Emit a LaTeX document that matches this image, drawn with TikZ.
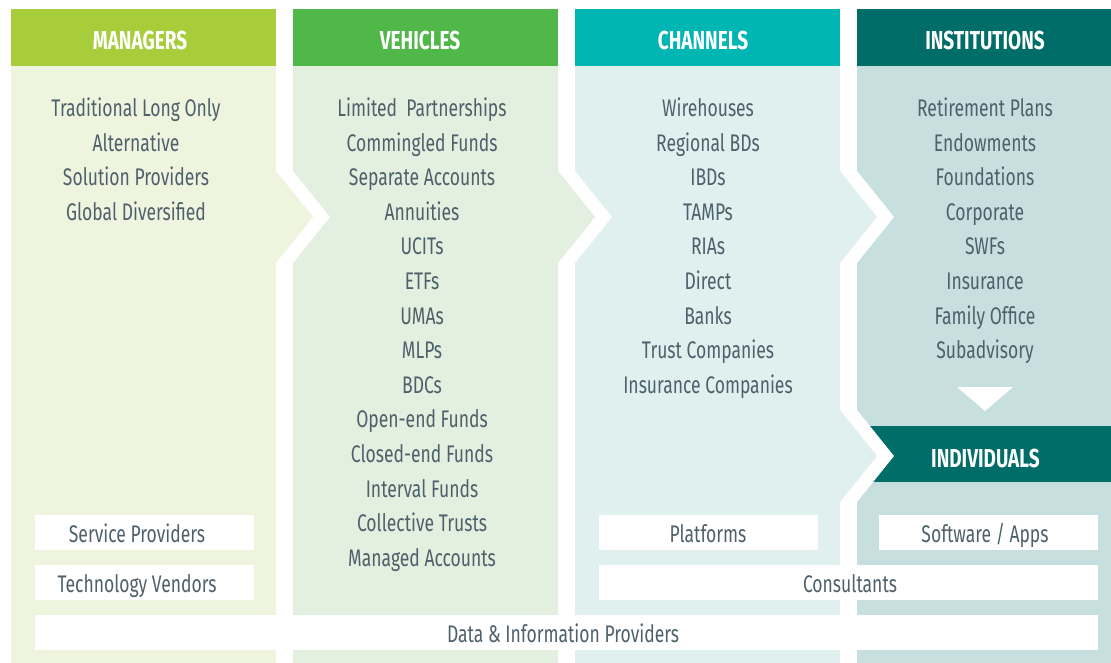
\documentclass[tikz,border=0pt]{standalone}
\usepackage{fontspec}
\setmainfont[FakeStretch=0.73]{Fira Sans}
\definecolor{mgrH}{HTML}{A7CE3A}
\definecolor{mgrL}{HTML}{EFF4DF}
\definecolor{vehH}{HTML}{50B848}
\definecolor{vehL}{HTML}{E3EFDF}
\definecolor{chnH}{HTML}{00B6B3}
\definecolor{chnL}{HTML}{DFF0EF}
\definecolor{insH}{HTML}{006D68}
\definecolor{insL}{HTML}{C8DFDF}
\definecolor{txt}{HTML}{4E606B}
% white arrow notch between two columns: #1 left column edge, #2 right column edge,
% #3 top of the notch, #4 colour of the left column
\newcommand{\flowchev}[4]{%
  \fill[white] (#2,#3) -- (#2+37,#3+46) -- (#2,#3+92) -- cycle;
  \fill[#4] (#1,#3) -- (#1+37,#3+46) -- (#1,#3+92) -- cycle;}
\begin{document}
\begin{tikzpicture}[x=1pt,y=-1pt,
  item/.style={text=txt,font=\fontsize{24}{24}\selectfont,anchor=base,inner sep=0pt},
  head/.style={text=white,font=\fontsize{26}{26}\selectfont\bfseries,anchor=base,inner sep=0pt},
  tagbox/.style={fill=white,draw=none,inner sep=0pt,minimum height=35pt}]
\useasboundingbox (0,0) rectangle (1111,663);
% column panels
\fill[mgrL] (11,9) rectangle (276,663);
\fill[vehL] (293,9) rectangle (558,663);
\fill[chnL] (575,9) rectangle (840,663);
\fill[insL] (857,9) rectangle (1111,663);
% column headers
\fill[mgrH] (11,9) rectangle (276,66);
\fill[vehH] (293,9) rectangle (558,66);
\fill[chnH] (575,9) rectangle (840,66);
\fill[insH] (857,9) rectangle (1111,66);
\fill[insH] (857,426) rectangle (1111,482);
% arrow notches
\flowchev{276}{293}{171}{mgrL}
\flowchev{558}{575}{171}{vehL}
\flowchev{840}{857}{171}{chnL}
\flowchev{840}{857}{410}{chnL}
% down arrow from institutions to individuals
\fill[white] (957,387) -- (1013,387) -- (985,411) -- cycle;
% header titles
\node[head] (hm) at (140,50) {MANAGERS};
\node[head] (hv) at (420,50) {VEHICLES};
\node[head] (hc) at (703,50) {CHANNELS};
\node[head] (hi) at (985,50) {INSTITUTIONS};
\node[head] (hd) at (985.5,467) {INDIVIDUALS};
% column lists
\foreach \t [count=\i from 0] in {Traditional Long Only,Alternative,Solution Providers,Global Diversified}
  \node[item] (m\i) at (136,116.5+34.6*\i) {\t};
\foreach \t [count=\i from 0] in {Limited\ \ Partnerships,Commingled Funds,Separate Accounts,Annuities,UCITs,ETFs,UMAs,MLPs,BDCs,Open-end Funds,Closed-end Funds,Interval Funds,Collective Trusts,Managed Accounts}
  \node[item] (v\i) at (422,116.5+34.6*\i) {\t};
\foreach \t [count=\i from 0] in {Wirehouses,Regional BDs,IBDs,TAMPs,RIAs,Direct,Banks,Trust Companies,Insurance Companies}
  \node[item] (c\i) at (708,116.5+34.6*\i) {\t};
\foreach \t [count=\i from 0] in {Retirement Plans,Endowments,Foundations,Corporate,SWFs,Insurance,Family Office,Subadvisory}
  \node[item] (n\i) at (985,116.5+34.6*\i) {\t};
% provider boxes
\node[tagbox,minimum width=219pt] (svc) at (144.5,532.5) {};
\node[tagbox,minimum width=219pt] (tech) at (144.5,582.5) {};
\node[tagbox,minimum width=1063pt] (data) at (566.5,632.5) {};
\node[tagbox,minimum width=219pt] (plat) at (708.5,532.5) {};
\node[tagbox,minimum width=219pt] (soft) at (988.5,532.5) {};
\node[tagbox,minimum width=499pt] (cons) at (848.5,582.5) {};
\node[item] (svct) at (137,542.5) {Service Providers};
\node[item] (techt) at (137,592.5) {Technology Vendors};
\node[item] (datat) at (563,642.5) {Data \& Information Providers};
\node[item] (platt) at (708,542.5) {Platforms};
\node[item] (softt) at (985,542.5) {Software / Apps};
\node[item] (const) at (850,592.5) {Consultants};
\end{tikzpicture}
\end{document}
